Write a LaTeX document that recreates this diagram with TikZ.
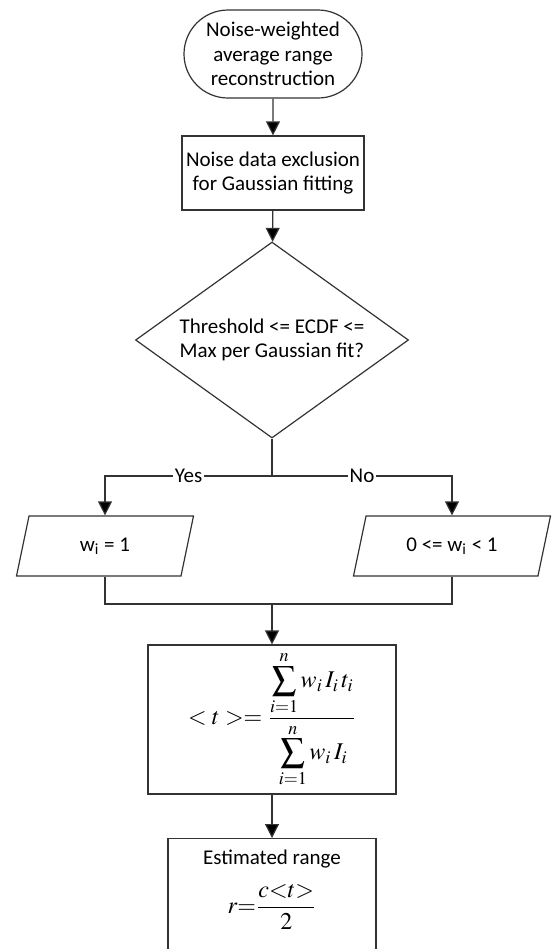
\documentclass[tikz,border=0pt]{standalone}
\usepackage{mathptmx}
\usepackage[no-math]{fontspec}
\setmainfont{Carlito}
\usetikzlibrary{arrows.meta, shapes.geometric, shapes.misc}
\tikzset{
  flowline/.style = {draw=black!80, line width=0.6pt},
  arrowline/.style = {flowline, -{Triangle[length=7pt, width=7pt, fill=black]}},
  terminal/.style = {rounded rectangle, draw=black!80, line width=0.6pt, align=center, minimum width=91pt, minimum height=44pt, inner sep=1pt},
  procbox/.style = {rectangle, draw=black!80, line width=0.6pt, align=center, inner sep=2pt},
  decision/.style = {diamond, aspect=1.4, draw=black!80, line width=0.6pt, align=center, minimum width=136.5pt, minimum height=98pt, inner sep=0pt},
  iobox/.style = {trapezium, trapezium left angle=63.4, trapezium right angle=116.6, trapezium stretches body, draw=black!80, line width=0.6pt, minimum height=30pt, inner sep=2pt},
  branchlabel/.style = {fill=white, inner sep=1pt}
}

\begin{document}
\begin{tikzpicture}[x=0.5pt, y=-0.5pt, font=\fontsize{10.5}{12.3}\selectfont]
\useasboundingbox (0,0) rectangle (552,949);
\clip (0,0) rectangle (552,949);
\node[terminal] (start) at (273,54) {Noise-weighted\\average range\\reconstruction};
\node[procbox, minimum width=91pt, minimum height=37pt] (excl) at (273,173) {Noise data exclusion\\for Gaussian fitting};
\node[decision] (test) at (272,340) {Threshold <= ECDF <=\\Max per Gaussian fit?};
\coordinate (split) at (272,476);
\node[iobox, minimum width=88.5pt] (yes) at (105,546) {w\textsubscript{i} = 1};
\node[iobox, minimum width=98.5pt] (no) at (452,546) {0 <= w\textsubscript{i} < 1};
\coordinate (merge) at (272,604);
\node[procbox, minimum width=124pt, minimum height=74.5pt, inner ysep=1pt, font=\large] (sumbox) at (272,719.5)
  {$\displaystyle <t>=\frac{\displaystyle\sum_{i=1}^{n} w_i\,I_i\,t_i\rule[-2pt]{0pt}{0pt}}{\displaystyle\rule{0pt}{19pt}\sum_{i=1}^{n} w_i\,I_i}$};
\node[procbox, minimum width=104pt, minimum height=62pt, anchor=north] (range) at (272,838) {};
\node (rangetxt) at (272,859) {Estimated range};
\node[font=\large] (rangeeq) at (272,907) {$\displaystyle r{=}\frac{c{<}t{>}}{2}$};

\draw[arrowline] (start) -- (excl);
\draw[arrowline] (excl) -- (test);
\draw[flowline] (test.south) -- (split);
\draw[arrowline] (split) -- node[branchlabel] {Yes} (split -| yes) -- (yes);
\draw[arrowline] (split) -- node[branchlabel] {No} (split -| no) -- (no);
\draw[flowline] (yes) -- (yes |- merge) -- (no |- merge) -- (no);
\draw[arrowline] (merge) -- (sumbox);
\draw[arrowline] (sumbox) -- (range);
\end{tikzpicture}
\end{document}
